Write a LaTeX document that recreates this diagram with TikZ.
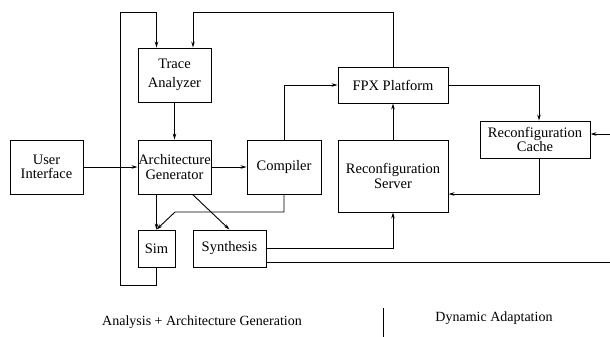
\documentclass[tikz,border=0pt]{standalone}
\usepackage{fontspec}
\setmainfont{Liberation Serif}
\usetikzlibrary{arrows.meta}
\begin{document}
\begin{tikzpicture}[x=1pt,y=-1pt,
  line width=0.9pt,
  box/.style={draw, inner sep=0pt, align=center, font=\fontsize{14.5}{14.5}\selectfont},
  arr/.style={-{Stealth[length=6pt,width=3.5pt]}},
  lbl/.style={font=\fontsize{14}{15}\selectfont, inner sep=0pt}]
\useasboundingbox (0,0) rectangle (610,337);
% nodes
\node[box, minimum width=73pt, minimum height=54pt] (ui) at (46.5,167) {User\\Interface};
\node[box, minimum width=73pt, minimum height=54pt] (ta) at (174.5,75) {Trace\\[5pt]Analyzer};
\node[box, minimum width=73pt, minimum height=54pt] (ag) at (174.5,167) {Architecture\\Generator};
\node[box, minimum width=74pt, minimum height=54pt] (co) at (284,167) {Compiler};
\node[box, minimum width=37pt, minimum height=37pt] (sim) at (156.5,248.5) {Sim};
\node[box, minimum width=73pt, minimum height=37pt] (syn) at (229.5,248.5) {Synthesis};
\node[box, minimum width=110pt, minimum height=36pt] (fpx) at (393,85) {FPX Platform};
\node[box, minimum width=110pt, minimum height=72pt] (rs) at (393,176) {Reconfiguration\\[1pt]Server};
\node[box, minimum width=110pt, minimum height=37pt, font=\fontsize{14.5}{13}\selectfont] (rc) at (535,139.5) {Reconfiguration\\Cache};
% helper coordinates
\coordinate (l1) at (120,285);
\coordinate (l2) at (120,12);
\coordinate (tr) at (193,12);
\coordinate (c1) at (175,212);
\coordinate (cx) at (539,139.5);
\coordinate (c2) at (539,194);
\coordinate (e1) at (610,262);
\coordinate (e2) at (610,134);
% connectors
\draw[arr] (sim.south) |- (l1) -- (l2) -| (ta.north -| sim.center);
\draw[arr] (fpx.north) |- (tr) -- (tr |- ta.north);
\draw[arr] (ta.south) -- (ag.north);
\draw[arr] (ui.east) -- (ag.west);
\draw[arr] (ag.east) -- (co.west);
\draw[arr] (ag.south -| sim.center) -- (sim.north);
\draw[arr] (ag.south -| syn.west) -- (syn.north);
\draw[arr] (co.south) |- (c1) -- (sim.north);
\draw[arr] (co.north) |- (fpx.west);
\draw[arr] (rs.north) -- (fpx.south);
\draw[arr] (fpx.east) -| (rc.north -| cx);
\draw[arr] (rc.south -| cx) -- (c2) -- (c2 -| rs.east);
\draw[arr] (syn.east) -| (rs.south);
\draw (syn.east |- e1) -- (e1);
\draw[arr] (e2) -- (e2 -| rc.east);
% bottom labels
\node[lbl] (la) at (202,322) {Analysis + Architecture Generation};
\node[lbl] (lb) at (494,318) {Dynamic Adaptation};
\coordinate (s1) at (383,308);
\coordinate (s2) at (383,337);
\draw (s1) -- (s2);
\end{tikzpicture}
\end{document}
